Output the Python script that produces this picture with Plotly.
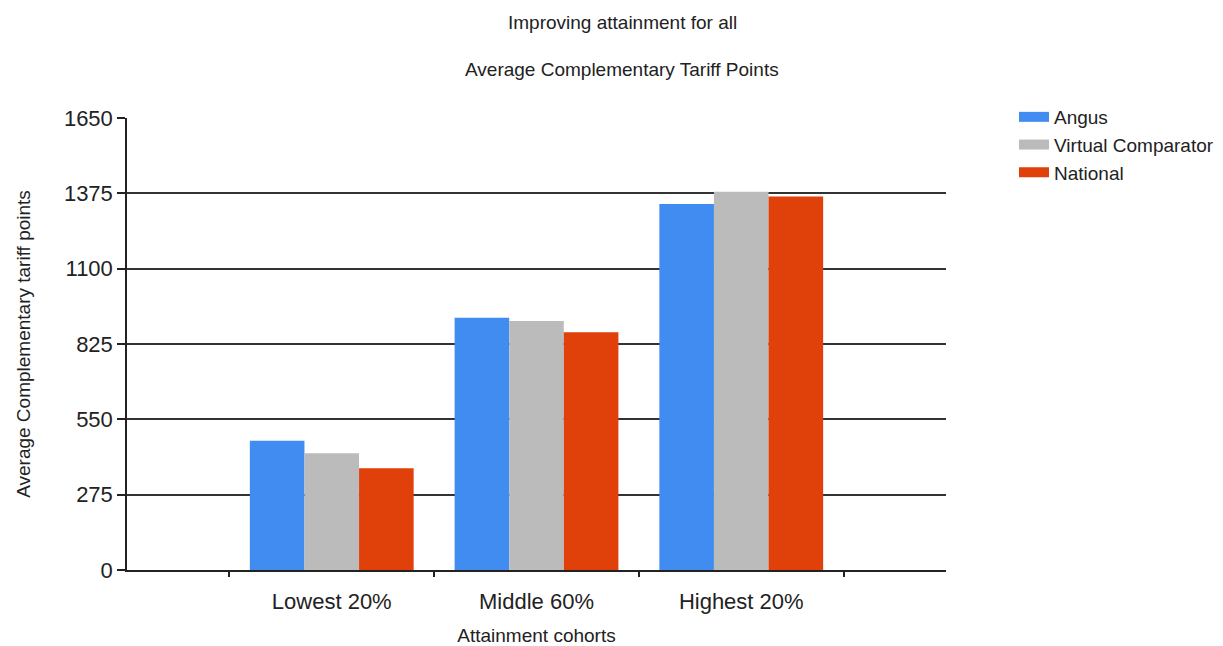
import plotly.graph_objects as go

# Attainment cohorts and average complementary tariff points per group
cohorts = ["Lowest 20%", "Middle 60%", "Highest 20%"]
cohort_pos = [1, 2, 3]
angus = [472, 921, 1336]
virtual_comparator = [426, 909, 1381]
national = [371, 868, 1363]

y_ticks = [0, 275, 550, 825, 1100, 1375, 1650]
boundary_ticks = [0.5, 1.5, 2.5, 3.5]

FONT = "Liberation Sans"
TEXT = "#222222"

W, H = 1223, 646
ML, MT, MB = 127, 118, 76
PLOT_RIGHT = 946  # right edge of the plotting area in pixels
paper_w = W - ML
x_dom_end = (PLOT_RIGHT - ML) / paper_w
plot_h = H - MT - MB

fig = go.Figure()
series = [
    ("Angus", angus, "#418CF0"),
    ("Virtual Comparator", virtual_comparator, "#BBBBBB"),
    ("National", national, "#E0400A"),
]
for name, vals, color in series:
    fig.add_trace(go.Bar(
        x=cohort_pos, y=vals, name=name, legendgroup=name, showlegend=False,
        marker=dict(color=color, line=dict(width=0)),
        hoverinfo="name+y",
    ))
# wide swatches for the legend entries
for name, vals, color in series:
    fig.add_trace(go.Scatter(
        x=[None], y=[None], name=name, legendgroup=name, mode="lines",
        line=dict(color=color, width=16), hoverinfo="skip",
    ))

# invisible trace to carry the secondary x axis that shows boundary ticks
fig.add_trace(go.Scatter(x=[None], y=[None], xaxis="x2", showlegend=False, hoverinfo="skip"))

fig.update_layout(
    width=W, height=H,
    margin=dict(l=ML, r=0, t=MT, b=MB),
    paper_bgcolor="white", plot_bgcolor="white",
    barmode="group", bargap=0.2, bargroupgap=0,
    font=dict(family=FONT, color=TEXT),
    xaxis=dict(
        domain=[0, x_dom_end],
        range=[0, 4], tickvals=cohort_pos, ticktext=cohorts,
        ticks="", showgrid=False, zeroline=False,
        showline=True, linecolor="#222222", linewidth=1.5,
        tickfont=dict(size=22, family=FONT, color=TEXT),
        ticklabelstandoff=11,
        title=dict(text="Attainment cohorts", font=dict(size=19, family=FONT, color=TEXT), standoff=16),
        automargin=False,
    ),
    xaxis2=dict(
        domain=[0, x_dom_end],
        range=[0, 4], overlaying="x", side="bottom", anchor="y",
        tickvals=boundary_ticks, ticktext=["", "", "", ""],
        ticks="outside", ticklen=6, tickwidth=1.5, tickcolor="#222222",
        showgrid=False, zeroline=False, showline=False,
    ),
    yaxis=dict(
        range=[0, 1650], tickvals=y_ticks,
        ticks="outside", ticklen=8, tickwidth=1.5, tickcolor="#222222",
        showgrid=True, gridcolor="#333333", gridwidth=1.5,
        zeroline=False, showline=True, linecolor="#222222", linewidth=1.5,
        tickfont=dict(size=22, family=FONT, color=TEXT),
        title=dict(text="Average Complementary tariff points",
                   font=dict(size=19, family=FONT, color=TEXT), standoff=28),
        automargin=False,
    ),
    legend=dict(
        x=(1014 - ML) / paper_w, xanchor="left",
        y=1 + 20 / plot_h, yanchor="top",
        xref="paper", yref="paper",
        font=dict(size=19, family=FONT, color=TEXT),
        tracegroupgap=0, itemwidth=30,
        bgcolor="rgba(0,0,0,0)",
    ),
    annotations=[
        dict(text="Improving attainment for all", x=(622 - ML) / paper_w, y=22,
             xref="paper", yref="paper",
             showarrow=False, font=dict(size=19, family=FONT, color=TEXT)),
        dict(text="Average Complementary Tariff Points", x=(622 - ML) / paper_w, y=69,
             xref="paper", yref="paper",
             showarrow=False, font=dict(size=19, family=FONT, color=TEXT)),
    ],
)

# Titles are positioned in pixels from the top of the page
for ann in fig.layout.annotations:
    ann.y = 1 + (MT - ann.y) / plot_h
    ann.yanchor = "middle"

fig.write_html("out.html")
